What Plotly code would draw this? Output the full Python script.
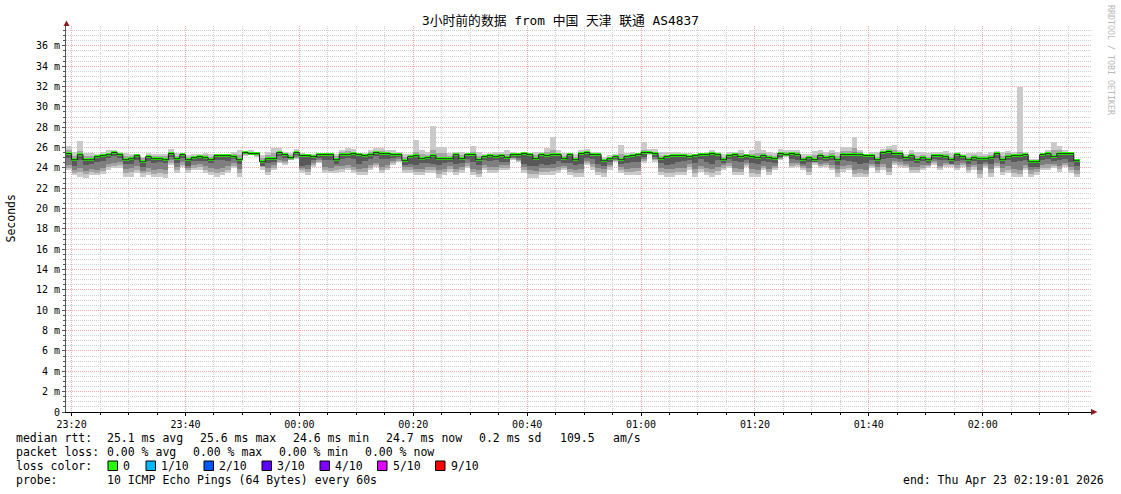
import plotly.graph_objects as go
import pandas as pd

# ---------------- data ----------------
TITLE = "3小时前的数据 from 中国 天津 联通 AS4837"
FIRST_STEP = "2026-04-22 23:19:00"
RANGE_START = "2026-04-22 23:19:01"
RANGE_END = "2026-04-23 02:19:01"
STEP_SECONDS = 60

# median rtt per step (ms)
MEDIAN = [
    25.4, 24.8, 25.3, 24.8, 24.8, 25.1, 25.2, 25.3, 25.5, 25.3,
    24.8, 24.9, 25.2, 24.6, 25.1, 24.9, 24.9, 24.8, 25.4, 24.9,
    25.3, 24.8, 25.0, 25.1, 25.0, 24.8, 25.2, 25.2, 25.2, 25.1,
    24.8, 25.5, 25.4, 25.4, 24.6, 24.9, 24.9, 25.5, 25.3, 25.0,
    25.5, 25.2, 25.2, 25.1, 25.3, 25.3, 25.3, 24.8, 25.3, 25.3,
    25.4, 25.3, 25.2, 25.3, 25.5, 25.4, 25.4, 25.3, 25.3, 24.7,
    25.1, 25.2, 24.9, 25.0, 25.2, 24.9, 24.9, 24.9, 25.3, 24.9,
    25.3, 25.3, 24.8, 25.1, 25.2, 25.1, 25.2, 25.0, 25.3, 25.3,
    25.4, 25.3, 24.9, 25.3, 25.2, 25.3, 25.3, 24.9, 25.3, 24.8,
    25.4, 25.5, 25.3, 25.3, 24.7, 24.9, 25.1, 24.8, 25.1, 25.2,
    25.3, 25.5, 25.5, 25.4, 24.9, 25.1, 25.2, 25.2, 25.2, 25.1,
    25.2, 25.3, 25.3, 25.4, 25.3, 24.8, 25.2, 25.3,
    25.1, 25.2, 25.1, 25.0, 25.2, 25.0, 24.9, 25.4, 25.3, 25.4,
    25.3, 24.8, 25.0, 24.8, 25.2, 25.0, 25.1, 24.8, 25.3, 25.3,
    25.3, 25.3, 25.2, 25.2, 24.8, 25.5, 25.6, 25.4, 25.4, 25.0,
    25.2, 24.8, 25.0, 24.8, 25.2, 25.2, 25.1, 24.8, 25.3, 25.1,
    24.8, 25.0, 24.9, 24.9, 25.0, 25.4, 24.8, 25.1, 25.2, 25.2,
    25.3, 24.6, 24.6, 25.3, 25.4, 25.1, 25.4, 25.4, 25.4, 24.7,
]

# outer smoke (fastest / slowest ping)
SMOKE_LO1 = [
    23.8, 23.3, 23.1, 23.0, 23.3, 23.3, 23.4, 23.8, 24.0, 24.0,
    23.1, 23.1, 23.5, 23.1, 23.3, 23.1, 23.1, 23.0, 24.3, 23.5,
    24.1, 23.5, 23.8, 23.8, 23.5, 23.3, 23.1, 23.3, 23.5, 24.0,
    23.1, 25.2, 25.3, 25.1, 23.8, 23.3, 23.8, 24.5, 24.3, 24.8,
    24.9, 23.5, 23.3, 24.1, 24.5, 23.5, 23.5, 23.5, 23.6, 23.8,
    23.5, 23.3, 23.3, 23.8, 24.1, 23.5, 23.8, 24.3, 24.6, 23.5,
    23.5, 23.3, 23.3, 23.5, 23.5, 23.0, 23.3, 23.6, 23.3, 23.5,
    24.0, 23.3, 23.1, 23.8, 23.5, 23.5, 23.8, 23.8, 24.8, 24.6,
    23.5, 23.0, 23.0, 23.3, 23.3, 23.3, 23.5, 23.8, 23.3, 23.1,
    23.1, 24.3, 23.8, 23.3, 23.1, 23.8, 24.6, 23.5, 23.3, 23.3,
    23.3, 24.5, 25.3, 24.6, 23.3, 23.1, 23.1, 23.3, 23.3, 23.8,
    23.1, 23.6, 23.3, 23.1, 23.3, 23.8, 24.0, 23.3,
    23.3, 24.1, 23.1, 23.1, 23.8, 23.3, 23.8, 24.8, 25.1, 24.0,
    24.1, 23.8, 23.3, 24.3, 24.0, 24.1, 23.8, 23.1, 23.6, 23.8,
    23.1, 23.1, 23.1, 24.0, 23.5, 23.8, 23.3, 24.3, 24.1, 24.0,
    23.5, 23.5, 23.8, 24.0, 24.3, 23.8, 24.1, 24.1, 23.8, 24.1,
    23.5, 23.8, 23.0, 24.0, 23.1, 24.0, 23.3, 23.5, 23.1, 23.1,
    23.8, 23.1, 23.3, 23.8, 23.8, 24.0, 23.6, 24.1, 23.5, 23.1,
]
SMOKE_HI1 = [
    26.2, 25.6, 26.6, 25.5, 25.5, 25.4, 25.6, 25.8, 25.8, 25.6,
    25.5, 25.4, 25.4, 25.1, 25.5, 25.4, 25.4, 25.4, 25.9, 25.5,
    25.5, 25.3, 25.4, 25.4, 25.5, 25.4, 25.4, 25.4, 25.4, 25.6,
    25.8, 25.7, 25.8, 25.6, 25.3, 25.6, 26.0, 26.0, 25.6, 25.5,
    25.9, 25.5, 25.4, 25.4, 25.5, 25.5, 25.5, 25.4, 25.8, 26.0,
    25.9, 25.5, 25.5, 25.8, 26.0, 26.0, 25.8, 25.8, 25.6, 25.4,
    25.4, 26.7, 25.8, 25.6, 28.1, 26.1, 26.1, 25.5, 25.6, 25.6,
    25.5, 26.2, 25.6, 25.4, 25.5, 25.6, 25.6, 25.8, 25.6, 25.5,
    25.6, 25.5, 25.6, 25.6, 26.0, 27.0, 25.8, 25.5, 25.5, 25.4,
    25.8, 25.9, 25.6, 25.6, 25.1, 25.3, 25.4, 26.3, 25.5, 25.6,
    25.5, 26.5, 25.9, 25.9, 25.6, 25.6, 25.6, 25.6, 25.5, 25.5,
    25.4, 25.5, 25.6, 25.8, 25.6, 25.4, 25.6, 25.6,
    25.8, 25.4, 25.8, 26.6, 25.8, 25.6, 25.5, 25.9, 25.8, 25.8,
    25.8, 25.4, 25.4, 25.7, 25.8, 25.6, 25.8, 25.6, 26.1, 26.1,
    27.0, 25.8, 25.4, 25.6, 25.6, 25.9, 26.2, 26.3, 25.8, 25.4,
    25.8, 25.6, 25.6, 25.5, 25.6, 25.6, 25.7, 25.5, 25.6, 25.4,
    25.5, 25.5, 25.6, 25.4, 25.6, 25.7, 25.6, 25.7, 25.6, 32.0,
    25.6, 24.9, 24.9, 25.4, 25.8, 26.5, 26.2, 25.8, 25.6, 24.8,
]
# second smoke layer (2nd / 9th ping)
SMOKE_LO2 = [
    24.0, 23.5, 23.6, 23.4, 23.6, 23.5, 23.7, 24.1, 24.2, 24.3,
    23.5, 23.6, 23.8, 23.5, 23.6, 23.4, 23.5, 23.4, 24.5, 23.8,
    24.3, 23.8, 24.0, 24.1, 23.8, 23.6, 23.5, 23.6, 23.8, 24.2,
    23.5, 25.3, 25.4, 25.2, 24.1, 23.6, 24.0, 24.6, 24.5, 24.8,
    25.0, 23.8, 23.6, 24.3, 24.6, 23.8, 23.7, 23.8, 23.9, 24.0,
    23.8, 23.6, 23.6, 24.0, 24.3, 23.8, 24.0, 24.5, 24.7, 23.8,
    23.8, 23.6, 23.6, 23.8, 23.8, 23.4, 23.6, 23.9, 23.6, 23.8,
    24.2, 23.6, 23.4, 24.0, 23.8, 23.8, 24.0, 24.0, 24.9, 24.7,
    23.8, 23.4, 23.4, 23.6, 23.6, 23.7, 23.8, 24.0, 23.6, 23.5,
    23.5, 24.5, 24.1, 23.6, 23.5, 24.1, 24.7, 23.8, 23.6, 23.6,
    23.7, 24.7, 25.4, 24.8, 23.6, 23.5, 23.5, 23.6, 23.6, 24.1,
    23.5, 23.9, 23.6, 23.5, 23.7, 24.0, 24.2, 23.6,
    23.6, 24.3, 23.5, 23.4, 24.0, 23.6, 24.0, 24.9, 25.2, 24.2,
    24.3, 24.0, 23.6, 24.5, 24.2, 24.3, 24.0, 23.5, 23.9, 24.0,
    23.4, 23.5, 23.4, 24.2, 23.8, 24.1, 23.6, 24.5, 24.3, 24.2,
    23.8, 23.8, 24.0, 24.2, 24.5, 24.0, 24.3, 24.3, 24.0, 24.3,
    23.8, 24.1, 23.4, 24.2, 23.5, 24.2, 23.6, 23.8, 23.5, 23.4,
    24.0, 23.4, 23.6, 24.0, 24.0, 24.2, 23.9, 24.3, 23.8, 23.4,
]
SMOKE_HI2 = [
    25.8, 25.2, 25.7, 25.2, 25.2, 25.3, 25.4, 25.5, 25.7, 25.5,
    25.2, 25.2, 25.3, 25.0, 25.3, 25.2, 25.2, 25.2, 25.6, 25.2,
    25.4, 25.1, 25.2, 25.3, 25.3, 25.1, 25.3, 25.3, 25.3, 25.4,
    25.3, 25.6, 25.6, 25.5, 25.0, 25.3, 25.5, 25.7, 25.5, 25.3,
    25.7, 25.4, 25.3, 25.3, 25.4, 25.4, 25.4, 25.2, 25.6, 25.7,
    25.6, 25.4, 25.4, 25.6, 25.7, 25.7, 25.6, 25.5, 25.5, 25.1,
    25.3, 25.6, 25.4, 25.3, 25.8, 25.5, 25.5, 25.2, 25.5, 25.3,
    25.4, 25.6, 25.2, 25.3, 25.4, 25.4, 25.4, 25.4, 25.5, 25.4,
    25.5, 25.4, 25.3, 25.5, 25.6, 25.8, 25.5, 25.2, 25.4, 25.1,
    25.6, 25.7, 25.5, 25.5, 24.9, 25.1, 25.3, 25.4, 25.3, 25.4,
    25.4, 25.8, 25.7, 25.6, 25.2, 25.3, 25.4, 25.4, 25.4, 25.3,
    25.3, 25.4, 25.5, 25.6, 25.5, 25.1, 25.4, 25.5,
    25.5, 25.3, 25.4, 25.5, 25.5, 25.3, 25.2, 25.6, 25.6, 25.6,
    25.6, 25.1, 25.2, 25.3, 25.5, 25.3, 25.5, 25.2, 25.7, 25.7,
    26.0, 25.6, 25.3, 25.4, 25.1, 25.7, 25.9, 25.8, 25.6, 25.2,
    25.5, 25.2, 25.3, 25.1, 25.4, 25.4, 25.4, 25.1, 25.5, 25.3,
    25.1, 25.3, 25.2, 25.2, 25.3, 25.6, 25.2, 25.5, 25.4, 25.6,
    25.5, 24.8, 24.8, 25.4, 25.6, 25.8, 25.8, 25.6, 25.5, 24.8,
]
# third smoke layer (3rd / 8th ping)
SMOKE_LO3 = [
    24.3, 23.8, 24.0, 23.7, 23.9, 23.8, 24.0, 24.4, 24.5, 24.6,
    23.9, 24.0, 24.2, 23.7, 24.0, 23.8, 23.9, 23.8, 24.8, 24.1,
    24.6, 24.0, 24.3, 24.4, 24.2, 24.0, 23.9, 24.0, 24.2, 24.5,
    23.9, 25.4, 25.4, 25.3, 24.3, 24.0, 24.3, 24.8, 24.7, 24.9,
    25.1, 24.0, 23.9, 24.5, 24.8, 24.1, 24.0, 24.2, 24.2, 24.3,
    24.1, 23.9, 24.0, 24.3, 24.5, 24.1, 24.3, 24.7, 24.9, 24.1,
    24.1, 23.9, 23.9, 24.1, 24.1, 23.8, 23.9, 24.2, 23.9, 24.1,
    24.5, 23.9, 23.8, 24.3, 24.1, 24.1, 24.3, 24.3, 25.0, 24.8,
    24.1, 23.8, 23.7, 24.0, 24.0, 24.0, 24.1, 24.2, 23.9, 23.8,
    23.9, 24.7, 24.4, 24.0, 23.9, 24.3, 24.8, 24.1, 23.9, 24.0,
    24.0, 24.9, 25.4, 24.9, 24.0, 23.9, 23.9, 24.0, 24.0, 24.4,
    23.9, 24.2, 24.0, 23.9, 24.1, 24.3, 24.5, 24.0,
    23.9, 24.5, 23.9, 23.8, 24.2, 23.9, 24.2, 25.0, 25.2, 24.5,
    24.5, 24.2, 24.0, 24.6, 24.4, 24.5, 24.3, 23.9, 24.2, 24.3,
    23.8, 23.9, 23.8, 24.4, 24.1, 24.4, 24.0, 24.7, 24.6, 24.4,
    24.1, 24.1, 24.3, 24.3, 24.7, 24.2, 24.5, 24.4, 24.3, 24.5,
    24.1, 24.3, 23.8, 24.4, 23.9, 24.5, 24.0, 24.2, 23.9, 23.8,
    24.3, 23.8, 23.9, 24.3, 24.4, 24.4, 24.2, 24.5, 24.1, 23.8,
]
SMOKE_HI3 = [
    25.6, 25.0, 25.5, 25.0, 25.0, 25.2, 25.3, 25.4, 25.6, 25.4,
    25.0, 25.1, 25.3, 24.8, 25.2, 25.1, 25.1, 25.0, 25.5, 25.1,
    25.4, 25.0, 25.1, 25.2, 25.2, 25.0, 25.3, 25.3, 25.3, 25.2,
    25.0, 25.6, 25.5, 25.5, 24.8, 25.1, 25.1, 25.6, 25.4, 25.2,
    25.6, 25.3, 25.3, 25.2, 25.4, 25.4, 25.4, 25.0, 25.4, 25.5,
    25.5, 25.4, 25.3, 25.4, 25.6, 25.5, 25.5, 25.4, 25.4, 24.9,
    25.2, 25.4, 25.1, 25.1, 25.4, 25.1, 25.1, 25.0, 25.4, 25.1,
    25.4, 25.4, 25.0, 25.2, 25.3, 25.2, 25.3, 25.2, 25.4, 25.4,
    25.5, 25.4, 25.1, 25.4, 25.4, 25.5, 25.4, 25.0, 25.4, 24.9,
    25.5, 25.6, 25.4, 25.4, 24.8, 25.0, 25.2, 25.0, 25.2, 25.3,
    25.4, 25.6, 25.6, 25.5, 25.0, 25.2, 25.3, 25.3, 25.3, 25.2,
    25.3, 25.4, 25.4, 25.5, 25.4, 24.9, 25.3, 25.4,
    25.3, 25.3, 25.2, 25.2, 25.3, 25.1, 25.0, 25.5, 25.4, 25.5,
    25.4, 24.9, 25.1, 25.0, 25.3, 25.1, 25.2, 24.9, 25.5, 25.5,
    25.6, 25.5, 25.3, 25.3, 24.9, 25.6, 25.7, 25.6, 25.5, 25.1,
    25.3, 24.9, 25.1, 24.9, 25.3, 25.3, 25.2, 24.9, 25.4, 25.2,
    24.9, 25.1, 25.0, 25.0, 25.1, 25.5, 24.9, 25.3, 25.3, 25.3,
    25.4, 24.7, 24.7, 25.4, 25.5, 25.3, 25.6, 25.5, 25.5, 24.8,
]
# bottom of darkest core (4th ping) — core reaches up to the median
SMOKE_LO4 = [
    25.0, 24.2, 24.8, 24.3, 24.4, 24.6, 24.7, 25.0, 25.2, 25.0,
    24.4, 24.4, 24.8, 24.1, 24.7, 24.5, 24.6, 24.5, 25.1, 24.5,
    25.0, 24.2, 24.7, 24.7, 24.7, 24.5, 24.8, 24.8, 24.7, 24.9,
    24.4, 25.5, 25.4, 25.4, 24.2, 24.5, 24.6, 25.2, 25.0, 25.0,
    25.3, 24.2, 24.3, 24.8, 25.0, 24.8, 24.8, 24.4, 24.9, 25.0,
    24.9, 24.4, 24.7, 24.9, 25.2, 24.9, 24.9, 25.0, 25.1, 24.3,
    24.4, 24.3, 24.5, 24.5, 24.4, 24.3, 24.5, 24.6, 24.4, 24.5,
    24.9, 24.6, 24.3, 24.8, 24.7, 24.8, 24.6, 24.6, 25.1, 25.0,
    24.4, 24.2, 24.2, 24.4, 24.3, 24.4, 24.7, 24.5, 24.5, 24.3,
    24.4, 25.0, 24.9, 24.4, 24.2, 24.6, 24.9, 24.4, 24.5, 24.6,
    24.6, 25.1, 25.4, 25.1, 24.5, 24.3, 24.4, 24.6, 24.7, 24.8,
    24.5, 24.9, 24.6, 24.4, 24.8, 24.5, 24.9, 24.7,
    24.6, 24.8, 24.5, 24.4, 24.7, 24.6, 24.5, 25.1, 25.2, 24.9,
    24.8, 24.4, 24.6, 24.6, 24.8, 24.7, 24.8, 24.3, 24.8, 24.7,
    24.6, 24.4, 24.5, 24.8, 24.4, 24.9, 25.0, 25.0, 24.9, 24.7,
    24.7, 24.5, 24.7, 24.5, 24.9, 24.8, 24.8, 24.4, 24.7, 24.8,
    24.4, 24.7, 24.4, 24.6, 24.4, 25.0, 24.4, 24.8, 24.6, 24.7,
    24.8, 24.1, 24.1, 24.8, 24.9, 24.7, 24.8, 24.9, 24.6, 24.2,
]

Y_TICK_VALUES = [0, 2, 4, 6, 8, 10, 12, 14, 16, 18, 20, 22, 24, 26, 28, 30, 32, 34, 36]
Y_TICK_TEXT = ["0", "2 m", "4 m", "6 m", "8 m", "10 m", "12 m", "14 m", "16 m", "18 m",
               "20 m", "22 m", "24 m", "26 m", "28 m", "30 m", "32 m", "34 m", "36 m"]
Y_TITLE = "Seconds"

RTT_LINE = ["median rtt:", "25.1 ms avg", "25.6 ms max", "24.6 ms min", "24.7 ms now",
            "0.2 ms sd", "109.5", "am/s"]
LOSS_LINE = ["packet loss:", "0.00 % avg", "0.00 % max", "0.00 % min", "0.00 % now"]
LOSS_COLOR_LABEL = "loss color:"
LOSS_NAMES = ["0", "1/10", "2/10", "3/10", "4/10", "5/10", "9/10"]
LOSS_COLORS = ["#26ff00", "#00b8ff", "#0059ff", "#5e00ff", "#7e00ff", "#dd00ff", "#ff0000"]
PROBE_LINE = ["probe:", "10 ICMP Echo Pings (64 Bytes) every 60s"]
END_TEXT = "end: Thu Apr 23 02:19:01 2026"
WATERMARK = "RRDTOOL / TOBI OETIKER"

# ---------------- geometry (reference pixel coordinates) ----------------
W, H = 1121, 494
PL, PR, PT, PB = 66, 1091, 26, 412
Y_MAX = 37.95


def fx(x):
    return (x - PL) / (PR - PL)


def fy(y):
    return (PB - y) / (PB - PT)


MONO = "DejaVu Sans Mono, Noto Sans CJK SC"

n = len(MEDIAN)
starts = pd.date_range(FIRST_STEP, periods=n + 1, freq=f"{STEP_SECONDS}s")
centers = [s + pd.Timedelta(seconds=STEP_SECONDS / 2) for s in starts[:-1]]
bar_w = STEP_SECONDS * 1000

fig = go.Figure()


def band(lo, hi, color):
    fig.add_trace(go.Bar(
        x=centers, base=lo, y=[max(h - l, 0) for l, h in zip(lo, hi)],
        width=bar_w, marker=dict(color=color, line=dict(width=0)),
        hoverinfo="skip", showlegend=False))


band(SMOKE_LO1, SMOKE_HI1, "#cacaca")
band(SMOKE_LO2, SMOKE_HI2, "#a4a4a4")
band(SMOKE_LO3, SMOKE_HI3, "#7e7e7e")
band(SMOKE_LO4, MEDIAN, "#585858")

# median black step line
fig.add_trace(go.Scatter(
    x=list(starts), y=MEDIAN + [MEDIAN[-1]], mode="lines", line_shape="hv",
    line=dict(color="#202020", width=1), hoverinfo="skip", showlegend=False))
# green loss-coloured median band
GREEN_H = 0.3
fig.add_trace(go.Bar(
    x=centers, base=[m - GREEN_H / 2 for m in MEDIAN], y=[GREEN_H] * n,
    width=bar_w, marker=dict(color=LOSS_COLORS[0], line=dict(width=0)),
    hoverinfo="skip", showlegend=False))

RED_GRID = "#f3a9a9"
GRAY_GRID = "#cfcfcf"
DOT = "1px,1px"

fig.update_layout(
    width=W, height=H, barmode="overlay", bargap=0,
    margin=dict(l=PL, r=W - PR, t=PT, b=H - PB, pad=0),
    paper_bgcolor="white", plot_bgcolor="white",
    font=dict(family=MONO, size=10, color="#000000"),
    showlegend=False,
    xaxis=dict(
        type="date", range=[RANGE_START, RANGE_END],
        tick0="2026-04-22 23:20:00", dtick=20 * 60 * 1000, tickformat="%H:%M",
        showgrid=True, gridcolor=RED_GRID, griddash=DOT, gridwidth=1,
        ticks="outside", ticklen=3, tickcolor="#000000",
        showline=True, linecolor="#000000", linewidth=1,
        zeroline=False, tickfont=dict(family=MONO, size=10),
        ticklabelstandoff=0,
        minor=dict(tick0="2026-04-22 23:20:00", dtick=5 * 60 * 1000, showgrid=True,
                   gridcolor=GRAY_GRID, griddash=DOT, gridwidth=1,
                   ticks="outside", ticklen=2, tickcolor="#000000"),
        fixedrange=True,
    ),
    yaxis=dict(
        range=[0, Y_MAX], tickvals=Y_TICK_VALUES, ticktext=Y_TICK_TEXT,
        showgrid=True, gridcolor=RED_GRID, griddash=DOT, gridwidth=1,
        ticks="outside", ticklen=3, tickcolor="#555555",
        showline=True, linecolor="#555555", linewidth=1,
        zeroline=False, tickfont=dict(family=MONO, size=10),
        minor=dict(dtick=0.5, showgrid=True, gridcolor=GRAY_GRID, griddash=DOT,
                   gridwidth=1, ticks="outside", ticklen=2, tickcolor="#555555"),
        fixedrange=True,
    ),
)

ARROW = "#8e1c1c"
shapes = []
# y-axis arrow
shapes.append(dict(type="path", xref="paper", yref="paper",
                   path=f"M {fx(63.5)} {fy(26)} L {fx(69.5)} {fy(26)} L {fx(66.5)} {fy(20.5)} Z",
                   fillcolor=ARROW, line=dict(color=ARROW, width=0), layer="above"))
# x-axis arrow
shapes.append(dict(type="path", xref="paper", yref="paper",
                   path=f"M {fx(1091)} {fy(409)} L {fx(1091)} {fy(415)} L {fx(1097.5)} {fy(412)} Z",
                   fillcolor=ARROW, line=dict(color=ARROW, width=0), layer="above"))

annotations = []


def text(s, x, y, anchor="left", size=11.5, color="#000000", angle=0):
    annotations.append(dict(text=s, x=fx(x), y=fy(y), xref="paper", yref="paper",
                            xanchor=anchor, yanchor="middle", showarrow=False,
                            textangle=angle, borderpad=0,
                            font=dict(family=MONO, size=size, color=color)))


# title
text(TITLE, 560, 21, anchor="center", size=12.8)
# y title
text(Y_TITLE, 10.5, 219, anchor="center", size=11.5, angle=-90)
# watermark
text(WATERMARK, 1111, 60, anchor="center", size=8.3, color="#b8b8b8", angle=90)

# legend rows
rtt_x = [16, 107, 200, 293, 386, 479, 560, 613]
for s, x in zip(RTT_LINE, rtt_x):
    text(s, x - 1, 438)
loss_x = [16, 107, 193, 279, 365]
for s, x in zip(LOSS_LINE, loss_x):
    text(s, x - 1, 452)
text(LOSS_COLOR_LABEL, 15, 466)
box_x = [108, 146, 204, 262, 320, 377.5, 435.5]
for name, col, bx in zip(LOSS_NAMES, LOSS_COLORS, box_x):
    shapes.append(dict(type="rect", xref="paper", yref="paper",
                       x0=fx(bx), x1=fx(bx + 9.5), y0=fy(461), y1=fy(470.5),
                       fillcolor=col, line=dict(color="#000000", width=1), layer="above"))
    text(name, bx + 14, 466)
text(PROBE_LINE[0], 15, 480)
text(PROBE_LINE[1], 106, 480)
text(END_TEXT, 1105, 480, anchor="right")

fig.update_layout(shapes=shapes, annotations=annotations)

# remove the default page margin so the figure sits at the window's top-left corner
fig.write_html("out.html", config={"displayModeBar": False},
               post_script="document.body.style.margin='0px';")
